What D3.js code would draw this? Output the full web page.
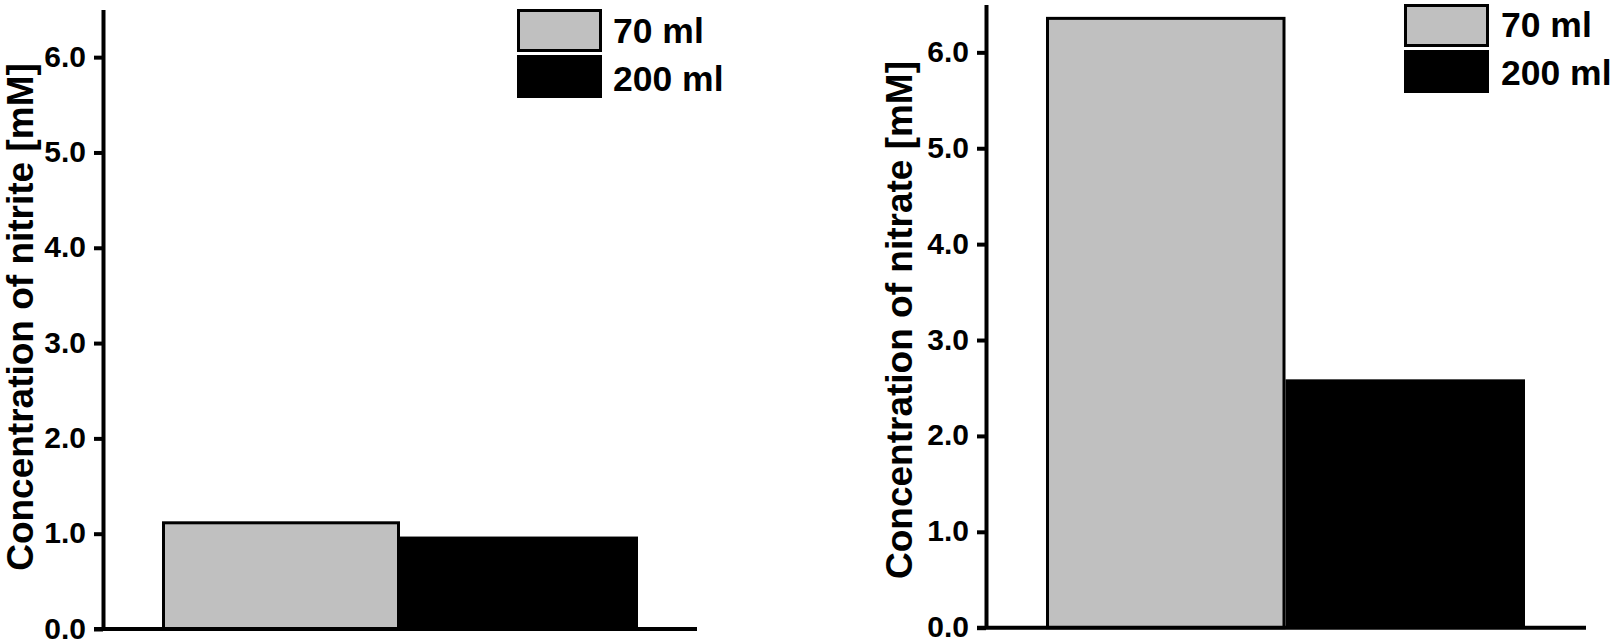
<!DOCTYPE html>
<html>
<head>
<meta charset="utf-8">
<script src="https://cdn.jsdelivr.net/npm/d3@7"></script>
<style>
  html, body { margin: 0; padding: 0; background: #fff; }
  svg { display: block; }
  text { font-family: "Liberation Sans", Arial, sans-serif; font-weight: bold; fill: #000; }
</style>
</head>
<body>
<svg id="chart" width="1615" height="642"></svg>
<script>
// ---- data ----
const categories = ["70 ml", "200 ml"];
const nitriteValues = [1.13, 0.97];
const nitrateValues = [6.37, 2.59];
const yTicks = [0, 1, 2, 3, 4, 5, 6];
const yDomain = [0, 6.5];
const barColors = ["#c0c0c0", "#000000"];
const panelTitles = ["Concentration of nitrite [mM]", "Concentration of nitrate [mM]"];

// ---- layout ----
const panels = [
  { values: nitriteValues, title: panelTitles[0], axisX: 103, baseY: 629, topY: 9.5,
    barL: 162, barR: 638, lineEnd: 697, titleX: 20.5, titleY: 317,
    legX: 517, legY: 9, legTextX: 613, legTextY: 43 },
  { values: nitrateValues, title: panelTitles[1], axisX: 986, baseY: 627.7, topY: 4.4,
    barL: 1046, barR: 1525, lineEnd: 1586, titleX: 899, titleY: 320,
    legX: 1404, legY: 4, legTextX: 1501, legTextY: 37 }
];

const svg = d3.select("#chart");

panels.forEach(p => {
  const g = svg.append("g");
  const y = d3.scaleLinear().domain(yDomain).range([p.baseY, p.topY]);
  const x = d3.scaleBand().domain(categories).range([p.barL, p.barR]).padding(0);

  // bars
  g.selectAll("rect.bar").data(categories).enter().append("rect")
    .attr("class", "bar")
    .attr("x", (d, i) => x(d) + (i === 0 ? 1.5 : 0))
    .attr("width", (d, i) => x.bandwidth() - (i === 0 ? 3 : 0))
    .attr("y", (d, i) => y(p.values[i]) + (i === 0 ? 1.5 : 0))
    .attr("height", (d, i) => p.baseY - y(p.values[i]) - (i === 0 ? 1.5 : 0))
    .attr("fill", (d, i) => barColors[i])
    .attr("stroke", (d, i) => i === 0 ? "#000" : "none")
    .attr("stroke-width", 3);

  // y axis
  const axis = d3.axisLeft(y).tickValues(yTicks).tickFormat(d3.format(".1f"))
    .tickSize(9).tickSizeOuter(0).tickPadding(8);
  const ag = g.append("g").attr("transform", `translate(${p.axisX},0)`).call(axis);
  ag.attr("font-size", 30).attr("font-family", "'Liberation Sans', Arial, sans-serif")
    .attr("font-weight", "bold");
  ag.select(".domain").attr("stroke", "#000").attr("stroke-width", 4);
  ag.selectAll(".tick line").attr("stroke", "#000").attr("stroke-width", 4);
  ag.selectAll(".tick text")
    .attr("font-size", 30)
    .attr("dy", "0.3em")
    .attr("fill", "#000")
    .style("font-size", "30px");

  // baseline (x axis)
  g.append("line")
    .attr("x1", p.axisX - 9).attr("x2", p.lineEnd)
    .attr("y1", y(0)).attr("y2", y(0))
    .attr("stroke", "#000").attr("stroke-width", 4);

  // y title
  g.append("text")
    .attr("transform", `translate(${p.titleX},${p.titleY}) rotate(-90)`)
    .attr("text-anchor", "middle")
    .attr("dominant-baseline", "central")
    .attr("font-size", 37)
    .style("font-size", "37px")
    .text(p.title);

  // legend
  const lg = g.append("g");
  categories.forEach((c, i) => {
    const by = p.legY + i * 46;
    lg.append("rect")
      .attr("x", p.legX + (i === 0 ? 1.5 : 0)).attr("y", by + (i === 0 ? 1.5 : 0))
      .attr("width", 85 - (i === 0 ? 3 : 0)).attr("height", 43 - (i === 0 ? 3 : 0))
      .attr("fill", barColors[i])
      .attr("stroke", i === 0 ? "#000" : "none").attr("stroke-width", 3);
    lg.append("text")
      .attr("x", p.legTextX).attr("y", p.legTextY + i * 48)
      .attr("font-size", 35.5)
      .style("font-size", "35.5px")
      .text(c);
  });
});
</script>
</body>
</html>
